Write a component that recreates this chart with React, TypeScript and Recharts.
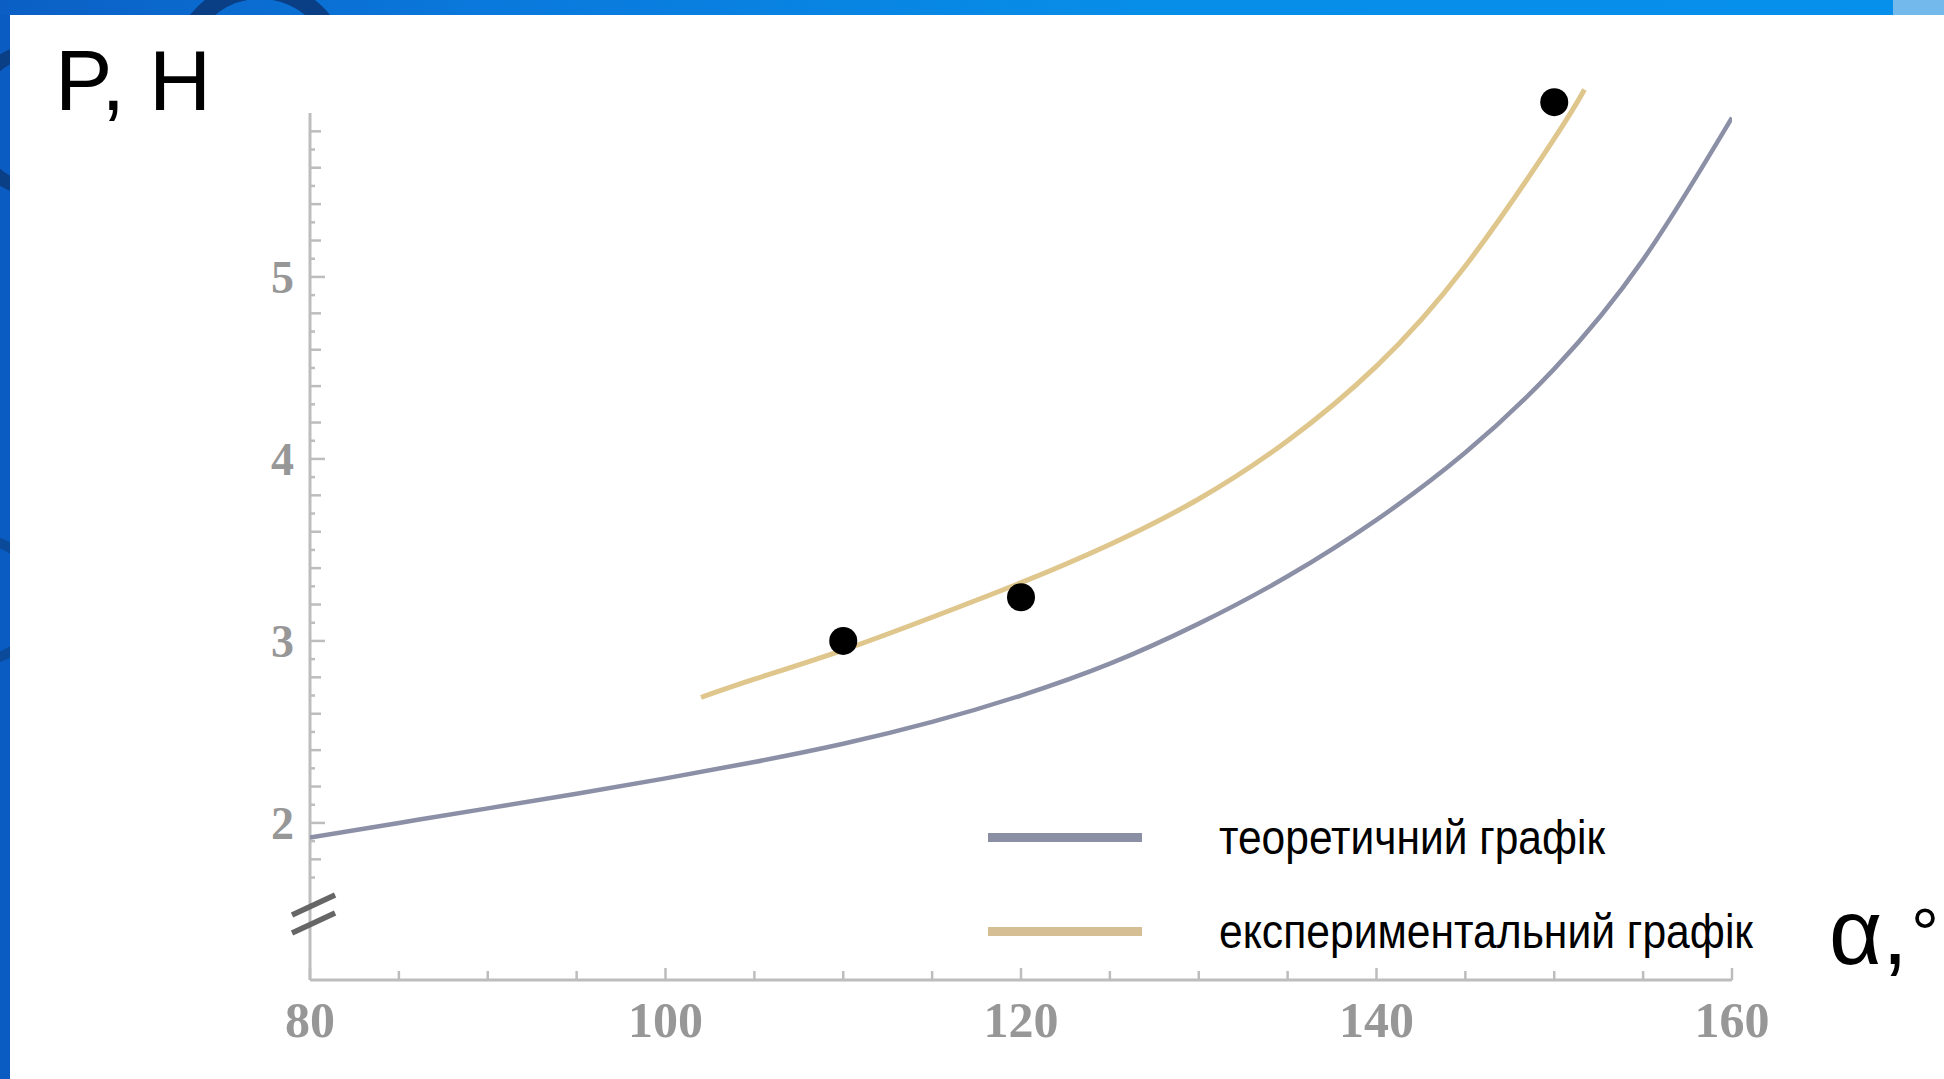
import React from 'react';
import { ComposedChart, Line, Scatter, XAxis, YAxis, ReferenceLine, Legend } from 'recharts';

// ---- data ----
const theoryAlpha = [80, 85, 90, 95, 100, 105, 110, 115, 120, 125, 130, 135, 140, 145, 150, 155, 160];
const theoryP = [1.92, 2.0, 2.08, 2.16, 2.245, 2.335, 2.435, 2.555, 2.7, 2.875, 3.095, 3.355, 3.665, 4.035, 4.495, 5.095, 5.875];

const expAlpha = [102, 105, 110, 115, 120, 125, 130, 135, 140, 145, 150, 151.7];
const expP = [2.69, 2.79, 2.95, 3.13, 3.32, 3.53, 3.78, 4.1, 4.51, 5.06, 5.76, 6.03];

const pointAlpha = [110, 120, 150];
const pointP = [3.0, 3.24, 5.96];

const xTicks = [80, 85, 90, 95, 100, 105, 110, 115, 120, 125, 130, 135, 140, 145, 150, 155, 160];
const xLabelTicks = [80, 100, 120, 140, 160];
const yTicks = [1.7, 1.8, 1.9, 2, 2.1, 2.2, 2.3, 2.4, 2.5, 2.6, 2.7, 2.8, 2.9, 3, 3.1, 3.2, 3.3, 3.4, 3.5, 3.6, 3.7, 3.8, 3.9, 4, 4.1, 4.2, 4.3, 4.4, 4.5, 4.6, 4.7, 4.8, 4.9, 5, 5.1, 5.2, 5.3, 5.4, 5.5, 5.6, 5.7, 5.8];
const yLabelTicks = [2, 3, 4, 5];

const seriesNames = ['теоретичний графік', 'експериментальний графік'];
const seriesColors = ['#8b90a7', '#dfc68c'];
const legendColors = ['#8a8fa4', '#d5bd94'];
const legendTextWidths = [386, 534];

const yDomain = [1.137, 6.082];
const yAxisTop = 5.9;

const theoryData = theoryAlpha.map((a, i) => ({ alpha: a, p: theoryP[i] }));
const expData = expAlpha.map((a, i) => ({ alpha: a, p: expP[i] }));
const pointData = pointAlpha.map((a, i) => ({ alpha: a, p: pointP[i] }));

const tickFont = '"Liberation Serif", "DejaVu Serif", serif';
const tickColor = '#979797';
const axisColor = '#bdbdbd';

const XTick = (props: any) => {
  const { x, y, payload } = props;
  const major = xLabelTicks.includes(payload.value);
  return (
    <g>
      <line x1={x} x2={x} y1={y} y2={y - (major ? 12 : 9)} stroke={axisColor} strokeWidth={2.5} />
      {major && (
        <text x={x} y={y + 57} textAnchor="middle" fontFamily={tickFont} fontWeight={700} fontSize={50} fill={tickColor}>
          {payload.value}
        </text>
      )}
    </g>
  );
};

const YTick = (props: any) => {
  const { x, y, payload } = props;
  const v = payload.value;
  const major = yLabelTicks.includes(v);
  const even = Math.round(v * 10) % 2 === 0;
  const len = major ? 15 : even ? 11 : 5;
  return (
    <g>
      <line x1={x} x2={x + len} y1={y} y2={y} stroke={axisColor} strokeWidth={2.5} />
      {major && (
        <text x={x - 16} y={y + 16} textAnchor="end" fontFamily={tickFont} fontWeight={700} fontSize={46} fill={tickColor}>
          {v}
        </text>
      )}
    </g>
  );
};

const LegendContent = () => (
  <svg width={800} height={160} style={{ display: 'block', overflow: 'visible' }}>
    {seriesNames.map((name, i) => (
      <g key={name}>
        <rect x={0} y={i * 94 + 26} width={154} height={9} fill={legendColors[i]} />
        <text
          x={231}
          y={i * 94 + 47}
          fontFamily='"Liberation Sans Narrow", "Liberation Sans", Arial, sans-serif'
          fontSize={48}
          fill="#000"
          textLength={legendTextWidths[i]}
          lengthAdjust="spacingAndGlyphs"
        >
          {name}
        </text>
      </g>
    ))}
  </svg>
);

const Background = () => (
  <svg width={1944} height={1079} style={{ position: 'absolute', left: 0, top: 0 }}>
    <defs>
      <linearGradient id="topbar" x1="0" x2="1" y1="0" y2="0">
        <stop offset="0" stopColor="#0b5fc4" />
        <stop offset="0.25" stopColor="#0a78dc" />
        <stop offset="0.6" stopColor="#078ee9" />
        <stop offset="1" stopColor="#078fec" />
      </linearGradient>
      <clipPath id="frame">
        <rect x={0} y={0} width={1944} height={15} />
        <rect x={0} y={0} width={10} height={1079} />
      </clipPath>
    </defs>
    <rect x={0} y={0} width={1944} height={1079} fill="#ffffff" />
    <g clipPath="url(#frame)">
      <rect x={0} y={0} width={1944} height={1079} fill="#0b5cc2" />
      <rect x={0} y={0} width={1893} height={15} fill="url(#topbar)" />
      <rect x={1893} y={0} width={51} height={15} fill="#74b9ec" />
      <circle cx={40} cy={120} r={70} fill="none" stroke="#0a3f86" strokeWidth={14} />
      <circle cx={260} cy={70} r={80} fill="none" stroke="#0a3f86" strokeWidth={18} />
      <circle cx={-20} cy={600} r={60} fill="none" stroke="#0a4a98" strokeWidth={10} />
    </g>
  </svg>
);

const Titles = () => (
  <svg width={1944} height={1079} style={{ position: 'absolute', left: 0, top: 0, pointerEvents: 'none' }}>
    <text x={55} y={110} fontFamily='"Liberation Sans", Arial, sans-serif' fontSize={86} fill="#000">
      P, H
    </text>
    <text x={1829} y={964} fontFamily='"Liberation Sans Narrow", "Liberation Sans", sans-serif' fontSize={92} fill="#000">
      α,
    </text>
    <text x={1911} y={958} fontFamily='"Liberation Sans", sans-serif' fontSize={70} fill="#000">
      °
    </text>
  </svg>
);

export default function App() {
  return (
    <div style={{ position: 'fixed', left: 0, top: 0, width: 1944, height: 1079, overflow: 'hidden', background: '#fff' }}>
      <Background />
      <div style={{ position: 'absolute', left: 0, top: 0 }}>
        <ComposedChart width={1944} height={1079} margin={{ top: 80, right: 212, bottom: 39, left: 250 }}>
          <XAxis
            type="number"
            dataKey="alpha"
            domain={[80, 160]}
            ticks={xTicks}
            interval={0}
            height={60}
            tickSize={0}
            tickMargin={0}
            tick={<XTick />}
            axisLine={{ stroke: axisColor, strokeWidth: 3 }}
            allowDataOverflow
          />
          <YAxis
            type="number"
            dataKey="p"
            domain={yDomain}
            ticks={yTicks}
            interval={0}
            width={60}
            tickSize={0}
            tickMargin={0}
            tick={<YTick />}
            axisLine={false}
            allowDataOverflow
          />
          <ReferenceLine
            segment={[{ x: 80, y: yDomain[0] }, { x: 80, y: yAxisTop }]}
            stroke={axisColor}
            strokeWidth={3}
            ifOverflow="visible"
          />
          <ReferenceLine
            segment={[{ x: 78.99, y: 1.4945 }, { x: 81.41, y: 1.604 }]}
            stroke="#666"
            strokeWidth={5.5}
            ifOverflow="visible"
          />
          <ReferenceLine
            segment={[{ x: 78.99, y: 1.3956 }, { x: 81.41, y: 1.5055 }]}
            stroke="#666"
            strokeWidth={5.5}
            ifOverflow="visible"
          />
          <Line
            data={theoryData}
            dataKey="p"
            type="natural"
            stroke={seriesColors[0]}
            strokeWidth={4.5}
            dot={false}
            isAnimationActive={false}
            name={seriesNames[0]}
          />
          <Line
            data={expData}
            dataKey="p"
            type="natural"
            stroke={seriesColors[1]}
            strokeWidth={5}
            dot={false}
            isAnimationActive={false}
            name={seriesNames[1]}
          />
          <Scatter
            data={pointData}
            dataKey="p"
            fill="#000"
            isAnimationActive={false}
            shape={(p: any) => <circle cx={p.cx} cy={p.cy} r={14} fill="#000" />}
            legendType="none"
          />
          <Legend
            layout="vertical"
            align="center"
            verticalAlign="middle"
            content={<LegendContent />}
            wrapperStyle={{ left: 988, top: 807, width: 800, height: 160 }}
          />
        </ComposedChart>
      </div>
      <Titles />
    </div>
  );
}
